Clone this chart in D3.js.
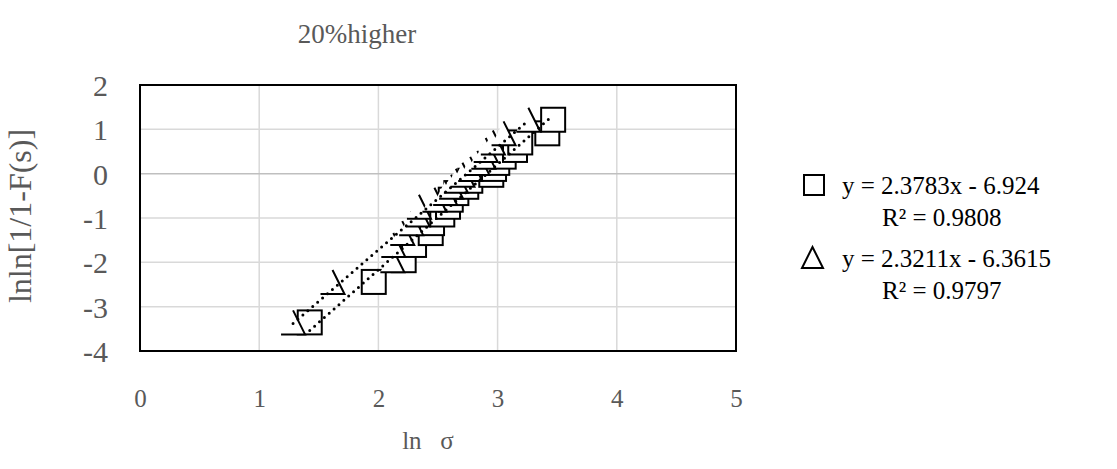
<!DOCTYPE html>
<html>
<head>
<meta charset="utf-8">
<script src="https://cdn.jsdelivr.net/npm/d3@7"></script>
<style>
  html, body { margin: 0; padding: 0; background: #fff; }
  svg { display: block; }
  text { font-family: "Liberation Serif", "Times New Roman", serif; fill: #595959; }
</style>
</head>
<body>
<svg id="chart" width="1117" height="469"></svg>
<script>
// ---- data ----
const lnlnF = [-3.355, -2.442, -1.952, -1.608, -1.340, -1.116, -0.921, -0.747, -0.587, -0.438,
               -0.296, -0.160, -0.026, 0.107, 0.243, 0.384, 0.535, 0.704, 0.910, 1.216];
const lnSigmaSquare = [1.424, 1.961, 2.212, 2.299, 2.439, 2.450, 2.536, 2.584, 2.607, 2.654,
                       2.737, 2.771, 2.947, 2.970, 2.997, 3.051, 3.146, 3.190, 3.417, 3.466];
const lnSigmaTriangle = [1.284, 1.615, 2.117, 2.125, 2.200, 2.275, 2.330, 2.340, 2.470, 2.560,
                         2.610, 2.650, 2.705, 2.770, 2.830, 2.880, 2.900, 2.960, 3.050, 3.258];
const trendSlopes = [2.3783, 2.3211];
const trendIntercepts = [-6.924, -6.3615];
const equationLabels = ["y = 2.3783x - 6.924", "y = 2.3211x - 6.3615"];
const r2Labels = ["R² = 0.9808", "R² = 0.9797"];
const xTicks = [0, 1, 2, 3, 4, 5];
const yTicks = [2, 1, 0, -1, -2, -3, -4];
const chartTitle = "20%higher";
const xTitle = "ln\u00a0\u00a0\u00a0σ";
const yTitle = "lnln[1/1-F(s)]";

// ---- layout ----
const svg = d3.select("#chart");
const L = 140, R = 736, T = 85, B = 351;
const x = d3.scaleLinear().domain([0, 5]).range([L, R]);
const y = d3.scaleLinear().domain([-4, 2]).range([B, T]);

// gridlines
const grid = svg.append("g");
grid.selectAll("line.v").data(xTicks).join("line")
  .attr("x1", d => x(d)).attr("x2", d => x(d)).attr("y1", T).attr("y2", B)
  .attr("stroke", "#d9d9d9").attr("stroke-width", 1.5);
grid.selectAll("line.h").data(yTicks).join("line")
  .attr("x1", L).attr("x2", R).attr("y1", d => y(d)).attr("y2", d => y(d))
  .attr("stroke", d => d === 0 ? "#bfbfbf" : "#d9d9d9").attr("stroke-width", 1.5);

// axes (labels only)
const fmt = d => String(d);
const xAxis = d3.axisBottom(x).tickValues(xTicks).tickSize(0).tickPadding(0).tickFormat(fmt);
const gx = svg.append("g").attr("transform", `translate(0,${B + 47})`).call(xAxis);
gx.select(".domain").remove();
gx.selectAll("text").attr("font-size", 25).attr("dy", "0.35em")
  .style("font-family", "Liberation Serif").attr("fill", "#595959");

const yAxis = d3.axisLeft(y).tickValues(yTicks).tickSize(0).tickPadding(0).tickFormat(fmt);
const gy = svg.append("g").attr("transform", `translate(${L - 32},0)`).call(yAxis);
gy.select(".domain").remove();
gy.selectAll("text").attr("font-size", 30).attr("dy", "0.35em")
  .style("font-family", "Liberation Serif").attr("fill", "#595959");

// markers: squares
const sq = 24;
const pts1 = lnSigmaSquare.map((v, i) => [v, lnlnF[i]]);
const pts2 = lnSigmaTriangle.map((v, i) => [v, lnlnF[i]]);
svg.append("g").selectAll("rect").data(pts1).join("rect")
  .attr("x", d => x(d[0]) - sq / 2).attr("y", d => y(d[1]) - sq / 2)
  .attr("width", sq).attr("height", sq)
  .attr("fill", "#fff").attr("stroke", "#000").attr("stroke-width", 2);

// markers: triangles (base + right edge stroked)
svg.append("g").selectAll("path").data(pts2).join("path")
  .attr("d", d => {
    const cx = x(d[0]), cy = y(d[1]), h = sq / 2;
    return `M${cx - h},${cy + h}L${cx + h},${cy + h}L${cx},${cy - h}`;
  })
  .attr("fill", "#fff").attr("stroke", "#000").attr("stroke-width", 2);

// trendlines (dotted)
[pts1, pts2].forEach((pts, k) => {
  const [x0, x1] = d3.extent(pts, d => d[0]);
  const line = [[x0, trendSlopes[k] * x0 + trendIntercepts[k]], [x1, trendSlopes[k] * x1 + trendIntercepts[k]]];
  svg.append("path")
    .attr("d", d3.line().x(d => x(d[0])).y(d => y(d[1]))(line))
    .attr("fill", "none").attr("stroke", "#000").attr("stroke-width", 3)
    .attr("stroke-linecap", "round").attr("stroke-dasharray", "0,6.5");
});

// plot frame
svg.append("rect").attr("x", L).attr("y", T).attr("width", R - L).attr("height", B - T)
  .attr("fill", "none").attr("stroke", "#000").attr("stroke-width", 2);

// titles
svg.append("text").attr("x", 357).attr("y", 43).attr("text-anchor", "middle")
  .attr("font-size", 27).text(chartTitle);
svg.append("text").attr("x", 428).attr("y", 449).attr("text-anchor", "middle")
  .attr("font-size", 25).text(xTitle);
svg.append("text").attr("transform", "translate(31,216) rotate(-90)").attr("text-anchor", "middle")
  .attr("font-size", 32).text(yTitle);

// legend / equations
const legend = svg.append("g");
const eqY = [185, 258];
const r2Y = [217, 290];
legend.append("rect").attr("x", 804).attr("y", eqY[0] - 10).attr("width", 20).attr("height", 20)
  .attr("fill", "none").attr("stroke", "#000").attr("stroke-width", 2);
legend.append("path").attr("d", `M802,${eqY[1] + 10}L823,${eqY[1] + 10}L812.5,${eqY[1] - 11}Z`)
  .attr("fill", "none").attr("stroke", "#000").attr("stroke-width", 2);
equationLabels.forEach((t, i) => {
  legend.append("text").attr("x", 842).attr("y", eqY[i]).attr("dy", "0.35em")
    .attr("font-size", 25).style("fill", "#000").text(t);
  legend.append("text").attr("x", 882).attr("y", r2Y[i]).attr("dy", "0.35em")
    .attr("font-size", 25).style("fill", "#000").text(r2Labels[i]);
});
</script>
</body>
</html>
